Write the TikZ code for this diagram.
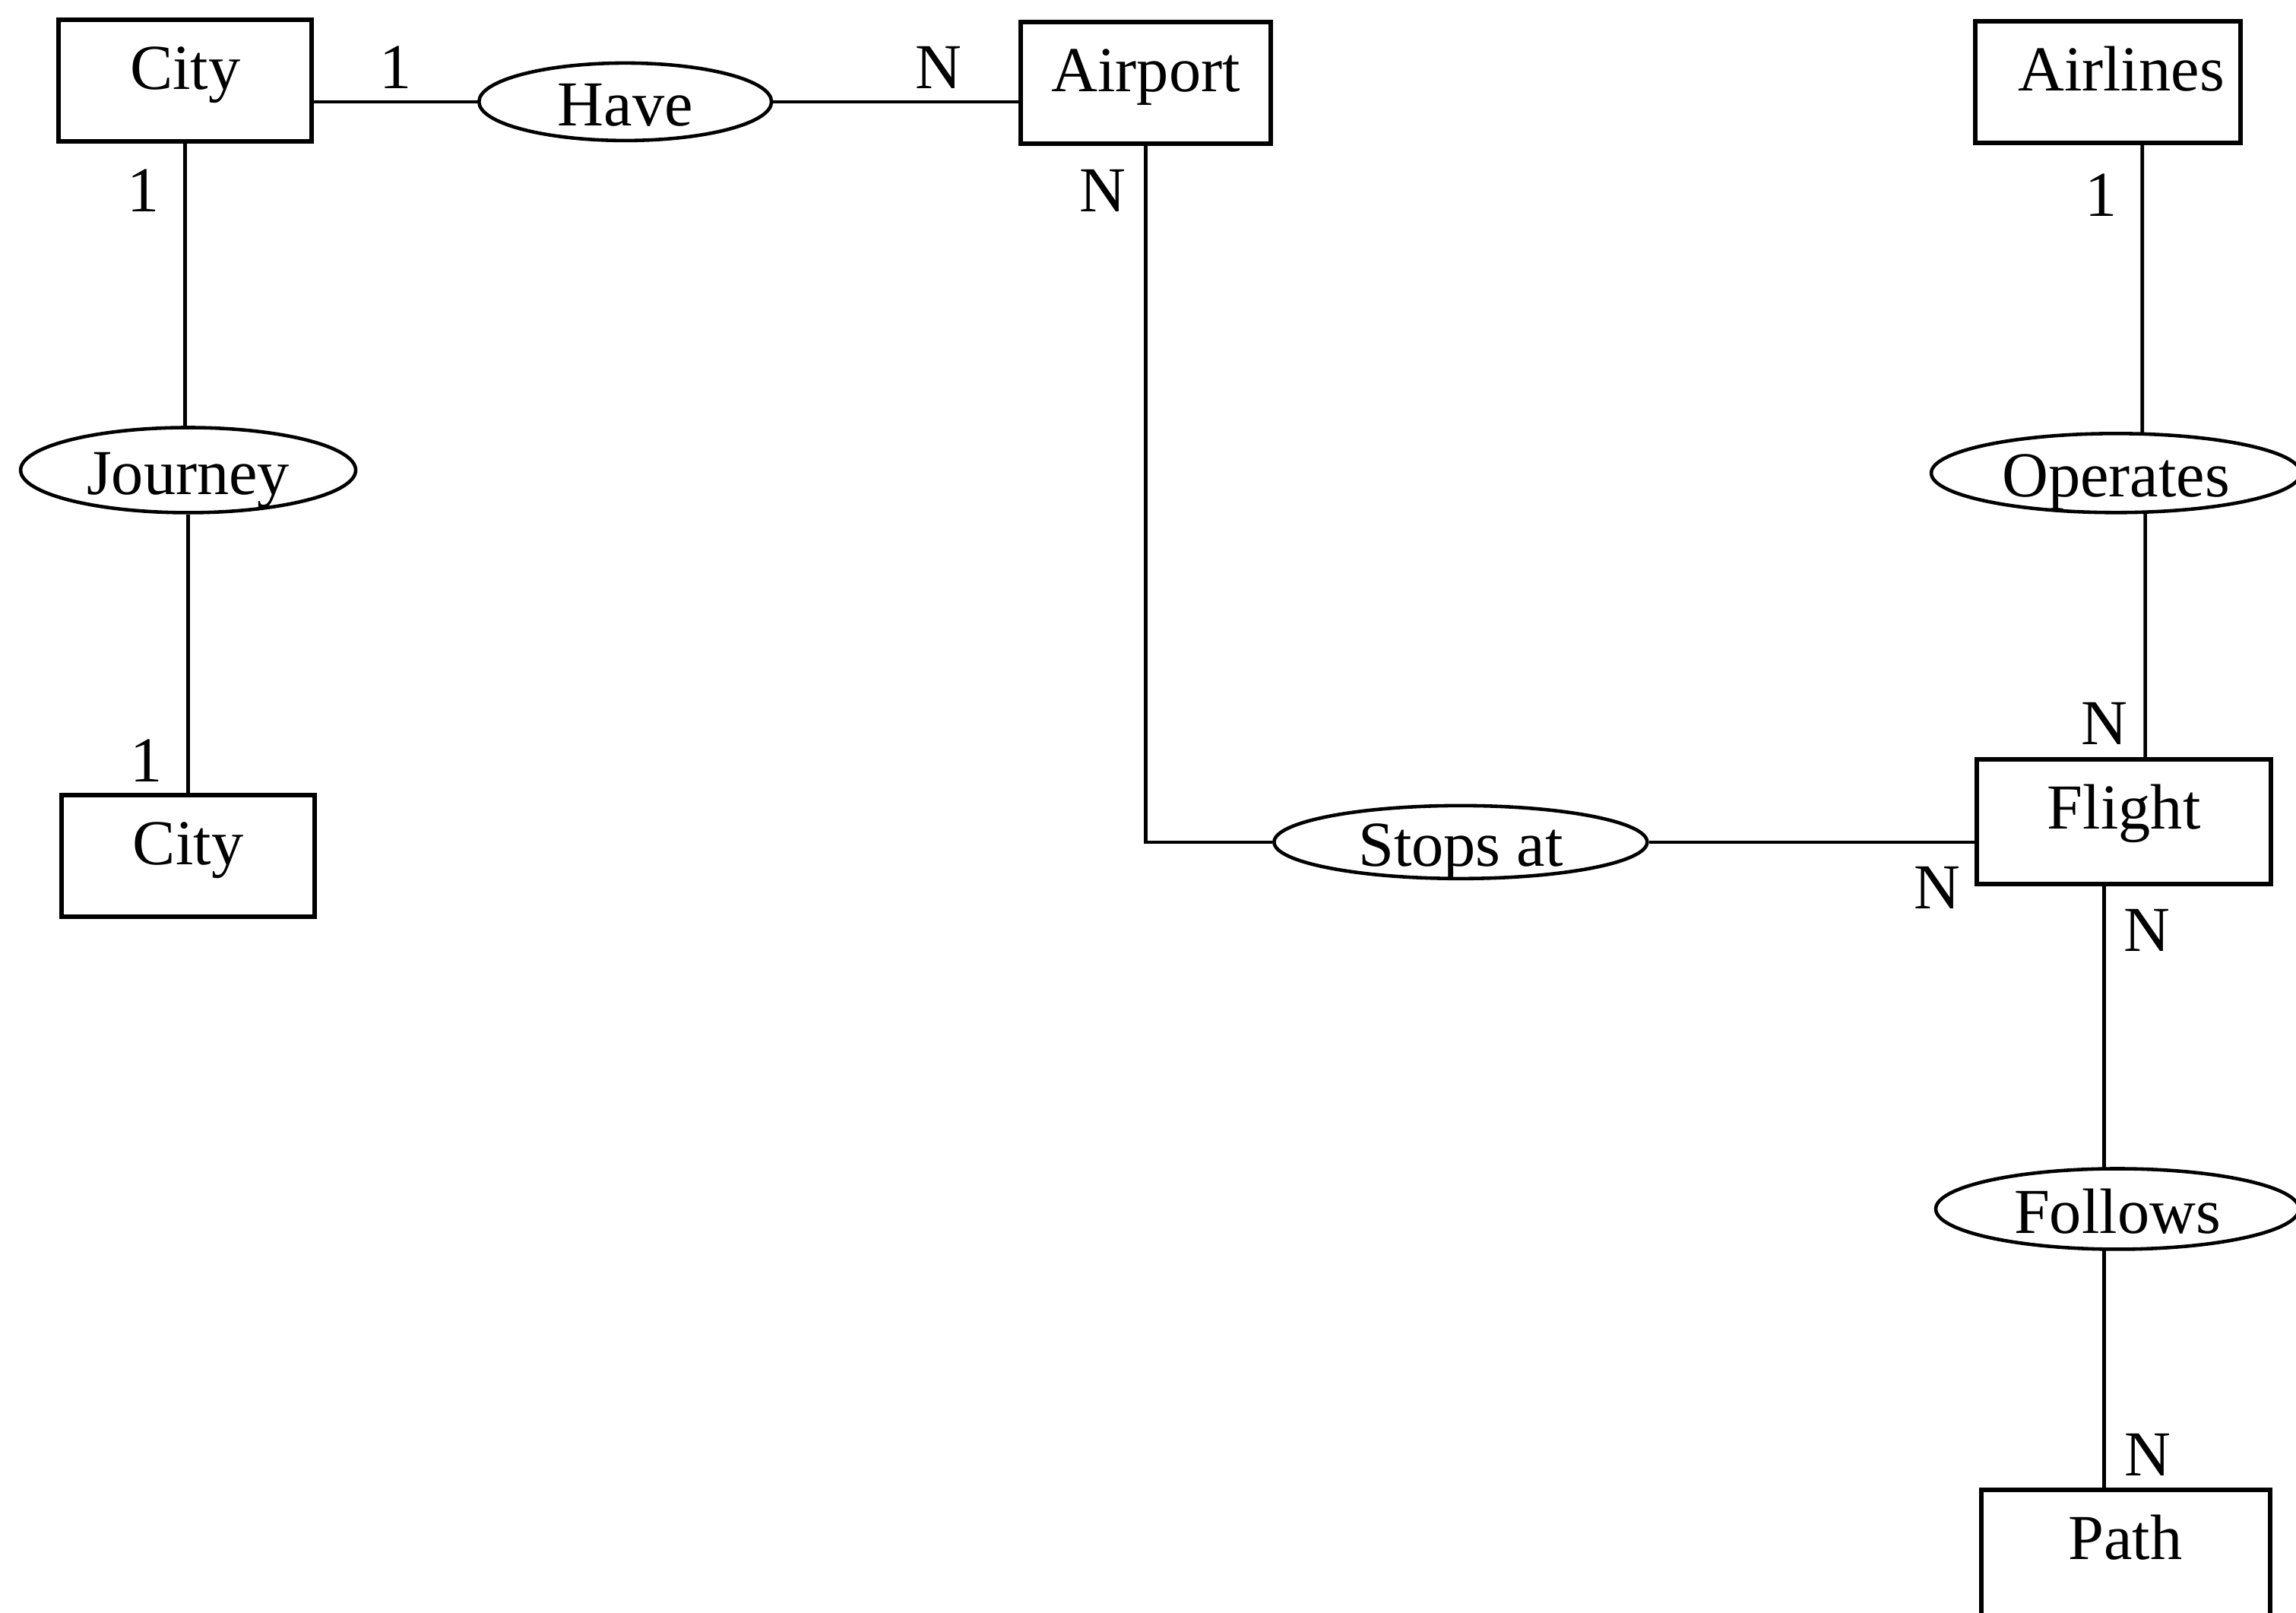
\documentclass[tikz,border=0pt]{standalone}
\usepackage{fontspec}
\setmainfont{Liberation Serif}
\usetikzlibrary{shapes.geometric,calc}
\begin{document}
\begin{tikzpicture}[x=0.019267cm, y=-0.019267cm,
  every node/.style={font=\fontsize{24}{28}\selectfont},
  entity/.style={draw, line width=1.7pt, rectangle, inner sep=0pt, text height=26pt, text depth=19.5pt},
  relation/.style={draw, line width=1.3pt, ellipse, inner sep=0pt, text height=18pt, text depth=0pt},
  card/.style={inner sep=0pt, text height=16pt, text depth=0pt},
  conn/.style={line width=1.3pt}]
\useasboundingbox (0,0) rectangle (1568,1101);
\fill[white] (0,0) rectangle (1568,1101);
% entities
\node[entity, minimum width=33.3mm] (city1) at (126.5,55) {City};
\node[entity, minimum width=32.9mm] (airport) at (782.5,56.5) {Airport};
\node[entity, minimum width=34.9mm] (airlines) at (1439.5,56) {\hspace*{3.5mm}Airlines};
\node[entity, minimum width=33.3mm] (city2) at (128.5,584.5) {City};
\node[entity, minimum width=38.7mm, text depth=20.5pt] (flight) at (1450.5,561) {Flight};
\node[entity, minimum width=38.0mm, text depth=24pt] (path) at (1451.5,1063) {Path};
% relationships
\node[relation, minimum width=38.5mm, minimum height=10.2mm] (have) at (427,69.5) {Have};
\node[relation, minimum width=44.1mm, minimum height=11.2mm] (journey) at (128.5,321) {Journey};
\node[relation, minimum width=48.6mm, minimum height=10.4mm] (operates) at (1445,323) {Operates};
\node[relation, minimum width=47.8mm, minimum height=10.6mm] (follows) at (1446,825.5) {Follows};
\node[relation, minimum width=49.1mm, minimum height=9.6mm] (stops) at (997.5,575) {Stops at};
% connectors
\draw[conn] (have.west) -- (have.west -| city1.east);
\draw[conn] (have.east) -- (have.east -| airport.west);
\draw[conn] (airport.south) -- (airport.south |- stops.west) -- (stops.west);
\draw[conn] (stops.east) -- (stops.east -| flight.west);
\draw[conn] (city1.south) -- (city1.south |- journey.north);
\draw[conn] (city2.north) -- (city2.north |- journey.south);
\draw[conn] ($(airlines.south)+(23.5,0)$) -- ($(operates.north)+(18,0.6)$);
\draw[conn] ($(operates.south)+(20,-0.6)$) -- ($(flight.north)+(14.5,0)$);
\draw[conn] ($(flight.south)+(-13.5,0)$) -- ($(follows.north)+(-9,0.3)$);
\draw[conn] ($(follows.south)+(-9,-0.3)$) -- ($(path.north)+(-14.5,0)$);
% cardinalities
\node[card] (c1) at (270,46) {1};
\node[card] (c2) at (641,46) {N};
\node[card] (c3) at (98,130) {1};
\node[card] (c4) at (753,130) {N};
\node[card] (c5) at (1435,133) {1};
\node[card] (c6) at (1437,494) {N};
\node[card] (c7) at (1323,606) {N};
\node[card] (c8) at (1466,635) {N};
\node[card] (c9) at (1467,993) {N};
\node[card] (c10) at (100,519) {1};
\end{tikzpicture}
\end{document}
